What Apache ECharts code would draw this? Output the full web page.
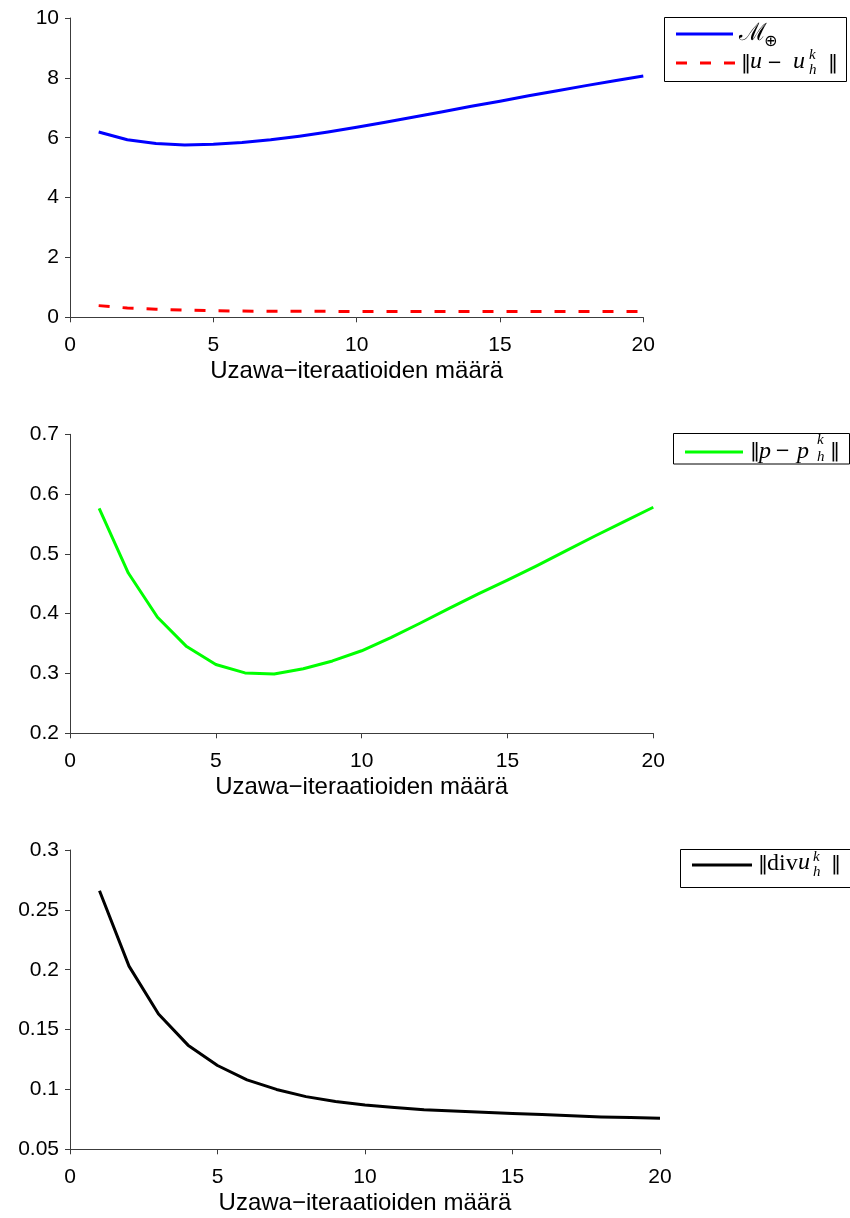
<!DOCTYPE html>
<html>
<head>
<meta charset="utf-8">
<script src="https://cdn.jsdelivr.net/npm/echarts@6/dist/echarts.min.js"></script>
<style>
  html, body { margin: 0; padding: 0; background: #ffffff; }
  #chart { width: 850px; height: 1218px; }
</style>
</head>
<body>
<div id="chart"></div>
<script>
// ---- Data ----
const iterations = [1, 2, 3, 4, 5, 6, 7, 8, 9, 10, 11, 12, 13, 14, 15, 16, 17, 18, 19, 20];
const mOplus = [6.19, 5.93, 5.81, 5.76, 5.78, 5.84, 5.93, 6.05, 6.19, 6.35, 6.52, 6.69, 6.87, 7.05, 7.22, 7.40, 7.57, 7.74, 7.90, 8.06];
const uError = [0.39, 0.31, 0.27, 0.24, 0.22, 0.21, 0.20, 0.20, 0.20, 0.19, 0.19, 0.19, 0.19, 0.19, 0.19, 0.19, 0.19, 0.19, 0.19, 0.19];
const pError = [0.576, 0.468, 0.394, 0.345, 0.315, 0.301, 0.299, 0.308, 0.321, 0.338, 0.360, 0.384, 0.409, 0.433, 0.456, 0.480, 0.505, 0.530, 0.554, 0.578];
const divError = [0.266, 0.203, 0.163, 0.137, 0.120, 0.108, 0.100, 0.094, 0.090, 0.087, 0.085, 0.083, 0.082, 0.081, 0.080, 0.079, 0.078, 0.077, 0.0765, 0.076];

const xAxisName = 'Uzawa\u2212iteraatioiden määrä';
const yRanges = [
  { min: 0, max: 10, interval: 2 },
  { min: 0.2, max: 0.7, interval: 0.1 },
  { min: 0.05, max: 0.3, interval: 0.05 }
];

const pairs = (ys) => iterations.map((x, i) => [x, ys[i]]);

const sansFont = '"Liberation Sans", Arial, Helvetica, sans-serif';
const serifFont = '"Liberation Serif", "Times New Roman", serif';
const barFont = '"DejaVu Sans", sans-serif';
const axisColor = '#3c3c3c';

const grids = [
  { left: 70, right: 206.7, top: 18, height: 299.3 },
  { left: 70, right: 196.7, top: 434.3, height: 299 },
  { left: 70, right: 190, top: 850, height: 299.3 }
];

function xAxisFor(i) {
  return {
    type: 'value', gridIndex: i, min: 0, max: 20, interval: 5,
    name: xAxisName, nameLocation: 'middle', nameGap: 42,
    nameTextStyle: { color: '#000', fontFamily: sansFont, fontSize: 24 },
    axisLine: { show: true, onZero: false, lineStyle: { color: axisColor, width: 1 } },
    axisTick: { show: true, inside: false, length: 5, lineStyle: { color: axisColor } },
    axisLabel: { color: '#000', fontFamily: sansFont, fontSize: 21, margin: 17 },
    splitLine: { show: false }
  };
}
function yAxisFor(i) {
  const r = yRanges[i];
  return {
    type: 'value', gridIndex: i, min: r.min, max: r.max, interval: r.interval,
    axisLine: { show: true, onZero: false, lineStyle: { color: axisColor, width: 1 } },
    axisTick: { show: true, inside: false, length: 5, lineStyle: { color: axisColor } },
    axisLabel: { color: '#000', fontFamily: sansFont, fontSize: 21, margin: 11 },
    splitLine: { show: false }
  };
}

function lineSeries(name, ys, idx, color, dashed) {
  return {
    name: name, type: 'line', xAxisIndex: idx, yAxisIndex: idx,
    data: pairs(ys), symbol: 'none', smooth: false, clip: false,
    lineStyle: { color: color, width: 3, type: dashed ? [11, 13] : 'solid', cap: 'butt', join: 'round' },
    itemStyle: { color: color },
    animation: false
  };
}

// ---- Legend boxes drawn as graphics (math notation) ----
function box(x, y, w, h) {
  return { type: 'rect', shape: { x: x, y: y, width: w, height: h },
           style: { fill: '#fff', stroke: '#000', lineWidth: 1 }, z: 10 };
}
function sample(x1, x2, y, color, dashed) {
  return { type: 'line', shape: { x1: x1, y1: y, x2: x2, y2: y },
           style: { stroke: color, lineWidth: 3, lineDash: dashed ? [11, 13] : null }, z: 11 };
}
function txt(x, y, s, size, italic, family) {
  return { type: 'text', x: x, y: y, z: 11,
           style: { text: s, fill: '#000', fontSize: size, fontStyle: italic ? 'italic' : 'normal',
                    fontFamily: family || serifFont, verticalAlign: 'middle', align: 'left' } };
}

const graphics = [
  // legend 1
  box(664.5, 17.5, 182, 64),
  sample(676, 733, 34, '#0000ff', false),
  txt(739, 34, '\u2133', 24, false, '"DejaVu Serif", serif'),
  txt(764, 42, '\u2295', 16, false, barFont),
  sample(676, 735, 63, '#ff0000', true),
  txt(741, 64, '\u2016', 20, false, barFont),
  txt(750, 62, 'u', 24, true),
  txt(767, 63, '\u2212', 18, false, barFont),
  txt(793, 62, 'u', 24, true),
  txt(809, 55, 'k', 15, true),
  txt(809, 70, 'h', 15, true),
  txt(828, 64, '\u2016', 20, false, barFont),
  // legend 2
  box(673.5, 433.5, 176, 30.5),
  sample(685, 743, 452, '#00ff00', false),
  txt(750, 452, '\u2016', 20, false, barFont),
  txt(759, 452, 'p', 24, true),
  txt(775, 451, '\u2212', 18, false, barFont),
  txt(797, 452, 'p', 24, true),
  txt(817, 440, 'k', 15, true),
  txt(817, 457, 'h', 15, true),
  txt(830, 452, '\u2016', 20, false, barFont),
  // legend 3
  box(680.5, 849.5, 170, 38),
  sample(692, 752, 865, '#000000', false),
  txt(758, 865, '\u2016', 20, false, barFont),
  txt(767, 864, 'div', 24, false),
  txt(798, 863, 'u', 24, true),
  txt(813, 857, 'k', 15, true),
  txt(813, 872, 'h', 15, true),
  txt(831, 865, '\u2016', 20, false, barFont)
];

const chart = echarts.init(document.getElementById('chart'), null, { renderer: 'canvas' });
chart.setOption({
  backgroundColor: '#ffffff',
  animation: false,
  grid: grids,
  xAxis: [xAxisFor(0), xAxisFor(1), xAxisFor(2)],
  yAxis: [yAxisFor(0), yAxisFor(1), yAxisFor(2)],
  series: [
    lineSeries('M', mOplus, 0, '#0000ff', false),
    lineSeries('u', uError, 0, '#ff0000', true),
    lineSeries('p', pError, 1, '#00ff00', false),
    lineSeries('div', divError, 2, '#000000', false)
  ],
  graphic: graphics
});
</script>
</body>
</html>
